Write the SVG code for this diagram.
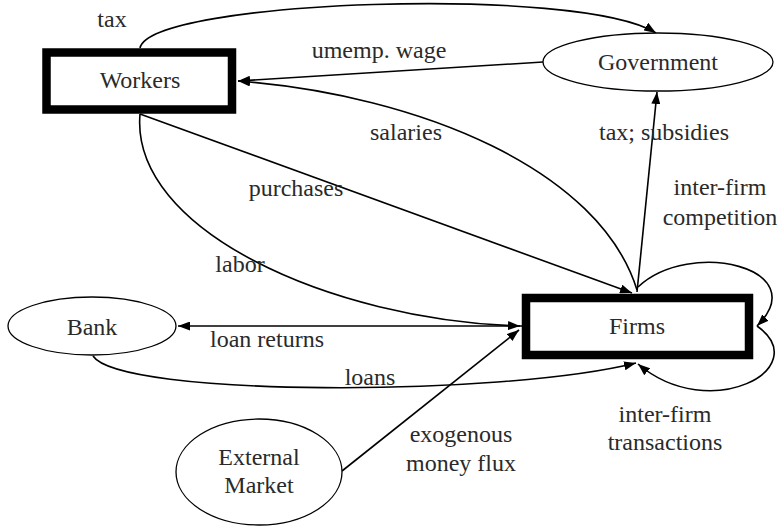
<svg xmlns="http://www.w3.org/2000/svg" width="783" height="526" viewBox="0 0 783 526">
  <defs>
    <marker id="arrow" viewBox="0 0 12 9" refX="12" refY="4.5" markerWidth="12" markerHeight="9" markerUnits="userSpaceOnUse" orient="auto">
      <path d="M0,0 L12,4.5 L0,9 z" fill="#000"/>
    </marker>
  </defs>
  <style>
    text { font-size: 24px; fill: #2a2a2a; text-anchor: middle; }
    .agent { fill: #fff; stroke: #000; stroke-width: 8.5; }
    .ent { fill: #fff; stroke: #000; stroke-width: 1.3; }
    .edge { fill: none; stroke: #000; stroke-width: 1.6; marker-end: url(#arrow); }
  </style>
  <rect width="783" height="526" fill="#fff"/>

  <g id="connectors">
    <!-- tax: Workers -> Government -->
    <path class="edge" d="M140,48 C150,0 580,-15 656,33"/>
    <!-- unemployment wage: Government -> Workers -->
    <path class="edge" d="M543,62 L238,81"/>
    <!-- salaries: Firms -> Workers -->
    <path class="edge" d="M637,290 C600,170 420,95 238,81"/>
    <!-- purchases: Workers -> Firms -->
    <path class="edge" d="M140,114 L632,293"/>
    <!-- labor: Workers -> Firms -->
    <path class="edge" d="M140,114 C130,230 330,320 520,326"/>
    <!-- tax; subsidies: Firms -> Government -->
    <path class="edge" d="M637,292 L657,92"/>
    <!-- loan returns: Firms -> Bank -->
    <path class="edge" d="M522,326 L178,326"/>
    <!-- loans: Bank -> Firms -->
    <path class="edge" d="M93,356 C120,397 500,397 636,363"/>
    <!-- exogenous money flux: External Market -> Firms -->
    <path class="edge" d="M342,471 L519,330"/>
    <!-- inter-firm competition loop -->
    <path class="edge" d="M638,287 C690,238 815,268 757,326"/>
    <!-- inter-firm transactions loop -->
    <path class="edge" d="M757,326 C816,368 710,425 638,364"/>
  </g>

  <g font-family="Liberation Serif, Times New Roman, serif">
    <g id="workers">
      <rect class="agent" x="46.5" y="52.5" width="185.5" height="57"/>
      <text x="140" y="88">Workers</text>
    </g>
    <g id="government">
      <ellipse class="ent" cx="658" cy="62" rx="115" ry="29"/>
      <text x="658" y="70">Government</text>
    </g>
    <g id="firms">
      <rect class="agent" x="526" y="298" width="223" height="57"/>
      <text x="637" y="334">Firms</text>
    </g>
    <g id="bank">
      <ellipse class="ent" cx="92" cy="326" rx="84" ry="29"/>
      <text x="92" y="335">Bank</text>
    </g>
    <g id="external-market">
      <ellipse class="ent" cx="259" cy="472" rx="83" ry="53"/>
      <text x="259" y="465">External</text>
      <text x="259" y="493">Market</text>
    </g>

    <g id="labels">
      <text x="112" y="27">tax</text>
      <text x="379" y="58">umemp. wage</text>
      <text x="406" y="140">salaries</text>
      <text x="664" y="140">tax; subsidies</text>
      <text x="720" y="195">inter-firm</text>
      <text x="720" y="225">competition</text>
      <text x="296" y="196">purchases</text>
      <text x="240" y="272">labor</text>
      <text x="267" y="347">loan returns</text>
      <text x="370" y="385">loans</text>
      <text x="461" y="442">exogenous</text>
      <text x="461" y="471">money flux</text>
      <text x="665" y="422">inter-firm</text>
      <text x="665" y="450">transactions</text>
    </g>
  </g>
</svg>
